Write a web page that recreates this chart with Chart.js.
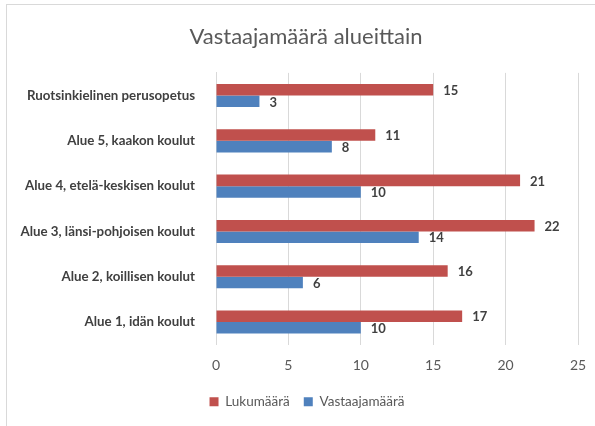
<!DOCTYPE html>
<html>
<head>
<meta charset="utf-8">
<script src="https://cdn.jsdelivr.net/npm/chart.js@4"></script>
<style>
  html, body { margin: 0; padding: 0; background: #fff; overflow: hidden; }
  #wrap { position: relative; width: 595px; height: 426px; }
  #frame { position: absolute; left: 6px; top: 4px; width: 700px; height: 600px;
           border-top: 1px solid #d9d9d9; border-left: 1px solid #d9d9d9; }
  canvas { position: absolute; left: 0; top: 0; }
</style>
</head>
<body>
<div id="wrap">
  <div id="frame"></div>
  <canvas id="chart" width="595" height="426"></canvas>
</div>
<script>
const categories = [
    'Ruotsinkielinen perusopetus',
    'Alue 5, kaakon koulut',
    'Alue 4, etelä-keskisen koulut',
    'Alue 3, länsi-pohjoisen koulut',
    'Alue 2, koillisen koulut',
    'Alue 1, idän koulut',
]
const lukumaara = [15, 11, 21, 22, 16, 17]
const vastaajamaara = [3, 8, 10, 14, 6, 10]
const xTicks = [0, 5, 10, 15, 20, 25]

const FONT = 'Lato, "Open Sans", sans-serif'

// value labels next to the bar ends
const barLabels = {
    id: 'barLabels',
    afterDatasetsDraw(chart) {
        const ctx = chart.ctx
        ctx.save()
        ctx.font = 'bold 13px ' + FONT
        ctx.fillStyle = '#404040'
        ctx.textAlign = 'left'
        ctx.textBaseline = 'middle'
        chart.data.datasets.forEach((ds, i) => {
            chart.getDatasetMeta(i).data.forEach((bar, j) => {
                ctx.fillText(ds.data[j], bar.x + 10, bar.y + 1)
            })
        })
        ctx.restore()
    }
}

// nudge title and legend a bit, like in the original
const shiftBoxes = {
    id: 'shiftBoxes',
    afterLayout(chart) {
        chart.titleBlock.left += 14
        chart.titleBlock.right += 14
        chart.legend.left += 15
        chart.legend.right += 15
        chart.legend.top -= 6.5
        chart.legend.bottom -= 6.5
    }
}

new Chart(document.getElementById('chart'), {
    type: 'bar',
    data: {
        labels: categories,
        datasets: [
            {label: 'Lukumäärä', data: lukumaara, backgroundColor: '#C0504D'},
            {label: 'Vastaajamäärä', data: vastaajamaara, backgroundColor: '#4F81BD'},
        ]
    },
    options: {
        indexAxis: 'y',
        responsive: false,
        animation: false,
        categoryPercentage: 0.51,
        barPercentage: 1,
        layout: {padding: {left: 6, right: 17, top: 0, bottom: 1}},
        scales: {
            x: {
                min: 0,
                max: 25,
                afterBuildTicks: (scale) => { scale.ticks = xTicks.map(v => ({value: v})) },
                afterFit: (scale) => { scale.height = 42.8 },
                grid: {color: '#d9d9d9', lineWidth: 1, drawTicks: true, tickLength: 12, tickColor: 'rgba(0,0,0,0)'},
                border: {display: false},
                ticks: {color: '#595959', font: {family: FONT, size: 14}, padding: 0},
            },
            y: {
                grid: {display: false},
                border: {color: '#d9d9d9'},
                afterFit: (scale) => { scale.width = 210 },
                ticks: {color: '#404040', font: {family: FONT, size: 13.3, weight: 'bold'}, padding: 13},
            }
        },
        plugins: {
            title: {
                display: true,
                text: 'Vastaajamäärä alueittain',
                color: '#595959',
                font: {family: FONT, size: 22, weight: 'normal'},
                padding: {top: 24, bottom: 22.5},
            },
            legend: {
                position: 'bottom',
                labels: {
                    color: '#595959',
                    font: {family: FONT, size: 13.5},
                    boxWidth: 9,
                    boxHeight: 9,
                    padding: 14,
                }
            },
            tooltip: {enabled: false}
        }
    },
    plugins: [barLabels, shiftBoxes]
})
</script>
</body>
</html>
